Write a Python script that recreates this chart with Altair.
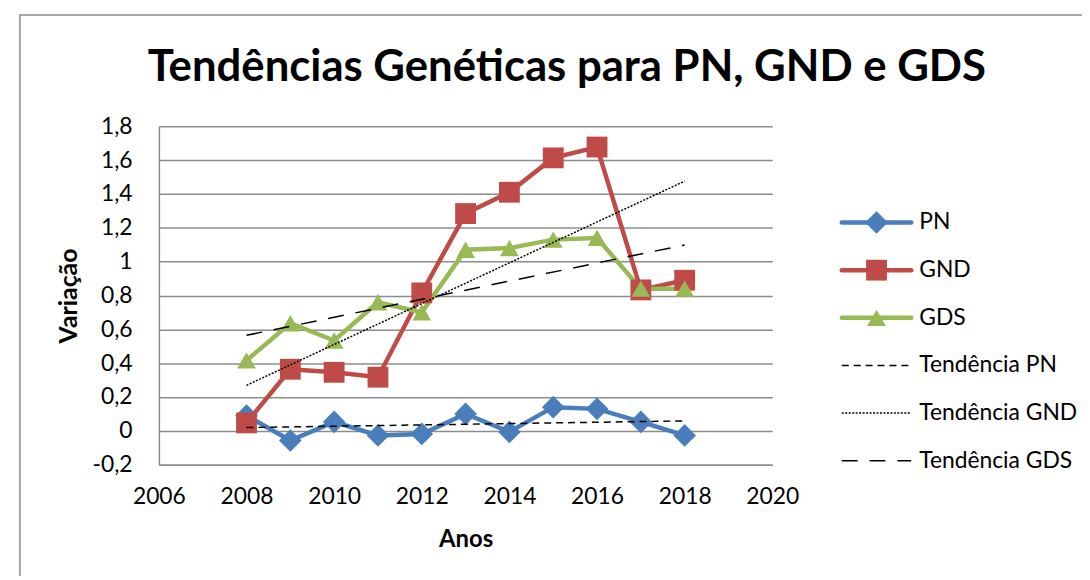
import altair as alt
import pandas as pd

anos = list(range(2008, 2019))
pn = [0.09, -0.057, 0.053, -0.027, -0.018, 0.10, -0.006, 0.14, 0.13, 0.053, -0.027]
gnd = [0.047, 0.364, 0.346, 0.317, 0.815, 1.284, 1.41, 1.613, 1.677, 0.833, 0.89]
gds = [0.416, 0.636, 0.534, 0.76, 0.70, 1.07, 1.08, 1.13, 1.14, 0.84, 0.84]

series = ["PN", "GND", "GDS"]
cores = ["#4A7EBB", "#BE4B48", "#98B954"]
formas = ["diamond", "square", "triangle-up"]
tamanhos = [520, 360, 420]
tracos = [[7, 5], [2, 1.5], [16, 12]]

titulo = "Tendências Genéticas para PN, GND e GDS"
leg_rotulos = ["PN", "GND", "GDS", "Tendência PN", "Tendência GND", "Tendência GDS"]
leg_serie = ["PN", "GND", "GDS", "PN", "GND", "GDS"]
leg_tipo = ["serie", "serie", "serie", "tendencia", "tendencia", "tendencia"]

x_ticks = [2006, 2008, 2010, 2012, 2014, 2016, 2018, 2020]
y_ticks = [-0.2, 0, 0.2, 0.4, 0.6, 0.8, 1.0, 1.2, 1.4, 1.6, 1.8]

FONT = "Lato"

rows = []
for nome, vals in zip(series, [pn, gnd, gds]):
    for a, v in zip(anos, vals):
        rows.append({"ano": a, "valor": v, "serie": nome})
df = pd.DataFrame(rows)

leg = pd.DataFrame({"rotulo": leg_rotulos, "serie": leg_serie, "tipo": leg_tipo})

cor_scale = alt.Scale(domain=series, range=cores)
forma_scale = alt.Scale(domain=series, range=formas)
tam_scale = alt.Scale(domain=series, range=tamanhos)
traco_scale = alt.Scale(domain=series, range=tracos)

x_axis = alt.Axis(values=x_ticks, format="d", title="Anos", grid=False,
                  ticks=False, labelPadding=21, labelFontSize=23, labelFont=FONT,
                  labelColor="black", labelFlush=False, labelOverlap=False,
                  domainColor="#8c8c8c", domainWidth=1.5,
                  titleFont=FONT, titleFontSize=24, titleFontWeight="bold",
                  titleColor="black", titleX=309, titleY=75,
                  titleBaseline="middle", titleAlign="center")
y_axis = alt.Axis(values=y_ticks,
                  labelExpr="replace(replace(format(datum.value, '.1~f'), '.', ','), '\u2212', '-')",
                  grid=True, gridColor="#8c8c8c", gridWidth=1.5, ticks=False,
                  labelPadding=27, labelFontSize=23, labelFont=FONT, labelColor="black",
                  labelFlush=False, labelOverlap=False, labelSeparation=0,
                  domainColor="#8c8c8c", domainWidth=1.5,
                  title="Variação", titleFont=FONT, titleFontSize=25,
                  titleFontWeight="bold", titleColor="black", titleAngle=270,
                  titleX=-91, titleY=170.5, titleBaseline="middle",
                  titleAlign="center")

def X():
    return alt.X("ano:Q", scale=alt.Scale(domain=[2006, 2020], nice=False, zero=False),
                 axis=x_axis)

def Y():
    return alt.Y("valor:Q", scale=alt.Scale(domain=[-0.2, 1.8], nice=False, zero=False),
                 axis=y_axis)

linhas = alt.Chart(df).mark_line(strokeWidth=4.5).encode(
    x=X(), y=Y(), color=alt.Color("serie:N", scale=cor_scale, legend=None),
    detail="serie:N")
pontos = alt.Chart(df).mark_point(filled=True, opacity=1).encode(
    x=X(), y=Y(),
    color=alt.Color("serie:N", scale=cor_scale, legend=None),
    shape=alt.Shape("serie:N", scale=forma_scale, legend=None),
    size=alt.Size("serie:N", scale=tam_scale, legend=None))
tendencias = alt.Chart(df).transform_regression(
    "ano", "valor", groupby=["serie"]).mark_line(color="black", strokeWidth=1.5).encode(
    x=X(), y=Y(),
    strokeDash=alt.StrokeDash("serie:N", scale=traco_scale, legend=None))

main = alt.layer(linhas, pontos, tendencias)

LY = alt.Y("rotulo:N", scale=alt.Scale(type="point", domain=leg_rotulos,
                                       range=[97, 337], padding=0), axis=None)
leg_linhas = alt.Chart(leg).transform_filter("datum.tipo == 'serie'").mark_rule(
    strokeWidth=4.5, strokeCap="round").encode(
    x=alt.value(688), x2=alt.value(758), y=LY,
    color=alt.Color("serie:N", scale=cor_scale, legend=None))
leg_pontos = alt.Chart(leg).transform_filter("datum.tipo == 'serie'").mark_point(
    filled=True, opacity=1).encode(
    x=alt.value(723), y=LY,
    color=alt.Color("serie:N", scale=cor_scale, legend=None),
    shape=alt.Shape("serie:N", scale=forma_scale, legend=None),
    size=alt.Size("serie:N", scale=tam_scale, legend=None))
leg_tend = alt.Chart(leg).transform_filter("datum.tipo == 'tendencia'").mark_rule(
    strokeWidth=1.5, color="black").encode(
    x=alt.value(688), x2=alt.value(758), y=LY,
    strokeDash=alt.StrokeDash("serie:N", scale=traco_scale, legend=None))
leg_txt = alt.Chart(leg).mark_text(align="left", baseline="middle", fontSize=23,
                                    font=FONT, color="black").encode(
    x=alt.value(766), y=LY, text="rotulo:N")

legenda = alt.layer(leg_linhas, leg_pontos, leg_tend, leg_txt)

base1 = pd.DataFrame({"titulo": [titulo]})
borda = alt.Chart(base1).mark_rect(
    fill=None, stroke="#8c8c8c", strokeWidth=1.5).encode(
    x=alt.value(-140), x2=alt.value(1000), y=alt.value(-112), y2=alt.value(700))
tit = alt.Chart(base1).mark_text(
    font=FONT, fontSize=44, fontWeight="bold", color="black",
    align="center", baseline="alphabetic").encode(
    x=alt.value(411), y=alt.value(-46), text="titulo:N")

chart = alt.layer(borda, tit, main, legenda).resolve_scale(y="independent").properties(
    width=618, height=341,
    autosize=alt.AutoSizeParams(type="none"),
    padding={"left": 152, "top": 117, "right": 312, "bottom": 110},
    background="white",
).configure_view(stroke=None).configure_axis(labelOverlap=False)

chart.save("out.html", embed_options={"renderer": "svg", "actions": False})
